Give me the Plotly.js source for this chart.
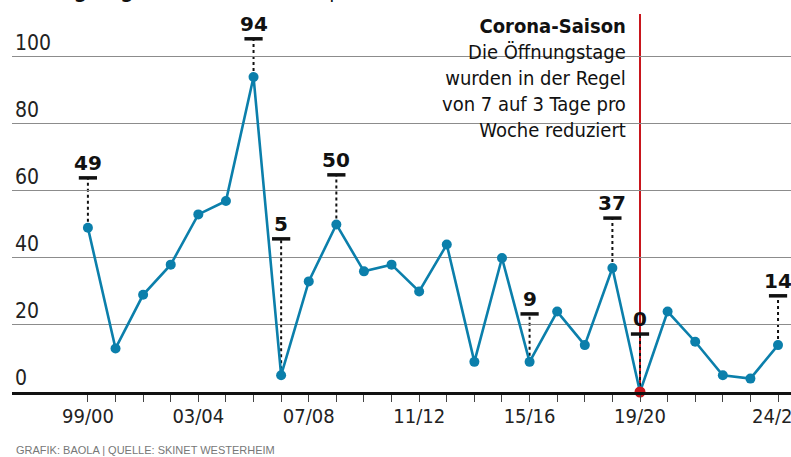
<!DOCTYPE html>
<html>
<head>
<meta charset="utf-8">
<script src="https://cdn.plot.ly/plotly-3.0.1.min.js"></script>
<style>html,body{margin:0;padding:0;background:#fff;}#chart{width:791px;height:457px;}</style>
</head>
<body>
<div id="chart"></div>
<script>
// ---- data ----
const seasons = ["99/00","00/01","01/02","02/03","03/04","04/05","05/06","06/07","07/08","08/09",
  "09/10","10/11","11/12","12/13","13/14","14/15","15/16","16/17","17/18","18/19",
  "19/20","20/21","21/22","22/23","23/24","24/25"];
const days = [49,13,29,38,53,57,94,5,33,50,36,38,30,44,9,40,9,24,14,37,0,24,15,5,4,14];
const labeledSeasons = ["99/00","05/06","06/07","08/09","15/16","18/19","19/20","24/25"];
const labelLevels = [63.9,105.4,45.7,64.8,23.3,51.9,17.3,28.7];
const tickSeasons = ["99/00","03/04","07/08","11/12","15/16","19/20","24/25"];
const coronaSeason = "19/20";
const yTicks = [0,20,40,60,80,100];

// ---- styling ----
const BLUE = "#0b7fab", RED = "#c8161d";
const condensed = "'Liberation Sans Narrow','DejaVu Sans Condensed','Roboto',sans-serif";
const idx = seasons.map((s,i)=>i);
const coronaIdx = seasons.indexOf(coronaSeason);

const traces = [
  {x: idx, y: days, type: "scatter", mode: "lines+markers",
   line: {color: BLUE, width: 2.6}, marker: {color: BLUE, size: 10},
   hoverinfo: "skip", showlegend: false, cliponaxis: false},
  {x: [coronaIdx], y: [days[coronaIdx]], type: "scatter", mode: "markers",
   marker: {color: RED, size: 11}, hoverinfo: "skip", showlegend: false, cliponaxis: false}
];

const shapes = [
  {type: "line", xref: "x", yref: "paper", x0: coronaIdx, x1: coronaIdx, y0: 0, y1: 1,
   line: {color: RED, width: 2}, layer: "below"}
];
const annotations = [];
labeledSeasons.forEach((s, k) => {
  const i = seasons.indexOf(s);
  const v = days[i];
  const top = labelLevels[k];
  shapes.push({type: "line", xref: "x", yref: "y", x0: i, x1: i, y0: v, y1: top,
    line: {color: "#111", width: 2, dash: "dot"}, layer: "below"});
  shapes.push({type: "line", xref: "x", yref: "y", x0: i - 0.33, x1: i + 0.33, y0: top, y1: top,
    line: {color: "#111", width: 3.5}});
  annotations.push({xref: "x", yref: "y", x: i, y: top, yanchor: "bottom", xanchor: "center",
    yshift: 1, showarrow: false, text: "<b>" + v + "</b>",
    font: {family: "'DejaVu Sans',sans-serif", size: 20, color: "#111"}});
});

annotations.push({xref: "x", yref: "paper", x: coronaIdx, xshift: -12, xanchor: "right",
  y: 1.005, yanchor: "top", align: "right", showarrow: false,
  text: "<b>Corona-Saison</b><br>Die Öffnungstage<br>wurden in der Regel<br>von 7 auf 3 Tage pro<br>Woche reduziert",
  font: {family: condensed, size: 20, color: "#111"}});

annotations.push({xref: "paper", yref: "paper", x: -0.016, xanchor: "left",
  y: 1.025, yanchor: "bottom", showarrow: false,
  text: "<b>Öffnungstage Lift Westerheim</b> pro Saison",
  font: {family: condensed, size: 21, color: "#111"}});

annotations.push({xref: "paper", yref: "paper", x: 0.002, xanchor: "left",
  y: -0.132, yanchor: "top", showarrow: false,
  text: "GRAFIK: BAOLA | QUELLE: SKINET WESTERHEIM",
  font: {family: "'Liberation Sans','DejaVu Sans',sans-serif", size: 11, color: "#777"}});

const layout = {
  width: 791, height: 457,
  margin: {l: 12, r: 0, t: 14, b: 65},
  paper_bgcolor: "#fff", plot_bgcolor: "#fff",
  showlegend: false,
  xaxis: {
    range: [-2.75, 25.47], fixedrange: true,
    tickmode: "array", tickvals: tickSeasons.map(s => seasons.indexOf(s)), ticktext: tickSeasons,
    ticks: "outside", ticklen: 7, tickwidth: 1, tickcolor: "#444",
    ticklabeloverflow: "allow", ticklabelstandoff: -3,
    minor: {tickmode: "array", tickvals: idx, ticks: "outside", ticklen: 7, tickwidth: 1, tickcolor: "#444", showgrid: false},
    showgrid: false, zeroline: false,
    showline: true, linecolor: "#111", linewidth: 3,
    tickfont: {family: condensed, size: 20, color: "#222"}
  },
  yaxis: {
    range: [0, 112.8], fixedrange: true,
    tickmode: "array", tickvals: yTicks, ticktext: yTicks.map(String),
    ticklabelposition: "inside top", ticks: "",
    showgrid: true, gridcolor: "#8c8c8c", gridwidth: 1,
    zeroline: false, showline: false,
    tickfont: {family: condensed, size: 21, color: "#222"}
  },
  shapes: shapes,
  annotations: annotations
};

Plotly.newPlot("chart", traces, layout, {displayModeBar: false, staticPlot: true});
</script>
</body>
</html>
